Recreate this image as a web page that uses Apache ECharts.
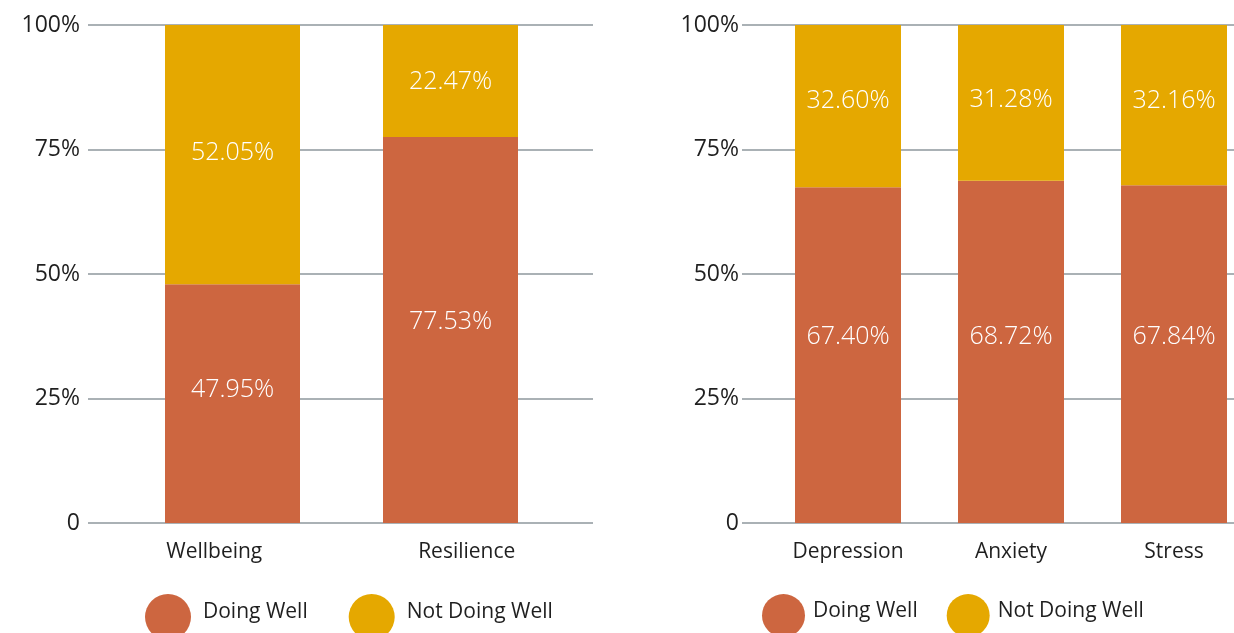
<!DOCTYPE html>
<html>
<head>
<meta charset="utf-8">
<script src="https://cdn.jsdelivr.net/npm/echarts@6/dist/echarts.min.js"></script>
<style>
  html, body { margin: 0; padding: 0; background: #ffffff; overflow: hidden; }
  /* canvas runs a little past the right edge so the last bar band keeps its full width */
  #chart { width: 1290px; height: 633px; }
</style>
</head>
<body>
<div id="chart"></div>
<script>
// Share of respondents doing well / not doing well, by measure
const leftCategories = ['Wellbeing', 'Resilience'];
const leftDoingWell = [47.95, 77.53];
const leftNotDoingWell = [52.05, 22.47];

const rightCategories = ['Depression', 'Anxiety', 'Stress'];
const rightDoingWell = [67.40, 68.72, 67.84];
const rightNotDoingWell = [32.60, 31.28, 32.16];

const yTicks = [0, 25, 50, 75, 100];
const seriesNames = ['Doing Well', 'Not Doing Well'];

const ORANGE = '#CD6640';
const GOLD = '#E5A800';
const GRID_LINE = '#8E979C';
const TEXT = '#1f1f1f';
const FONT = '"Open Sans", Lato, sans-serif';

const chart = echarts.init(document.getElementById('chart'), null, { renderer: 'canvas' });

const tickLabel = v => (v === 0 ? '0' : v + '%');

function valueAxis(gridIndex, showLabels, margin) {
  return {
    type: 'value', gridIndex, min: 0, max: 100, interval: 25,
    axisLine: { show: false }, axisTick: { show: false },
    axisLabel: {
      show: showLabels, formatter: v => (yTicks.includes(v) ? tickLabel(v) : ''),
      color: TEXT, fontFamily: FONT, fontSize: 23, margin: margin || 8
    },
    splitLine: { show: showLabels, lineStyle: { color: GRID_LINE, width: 1.6 } }
  };
}

function catAxis(gridIndex, data, showLabels) {
  return {
    type: 'category', gridIndex, data,
    axisLine: { show: false }, axisTick: { show: false },
    axisLabel: { show: showLabels, color: TEXT, fontFamily: FONT, fontSize: 21, margin: 19 }
  };
}

// labelShift nudges each value label a few pixels above the segment centre
function barSeries(name, data, axisIndex, color, width, labelShift) {
  return {
    type: 'bar', name, stack: 'panel' + axisIndex,
    data: data.map((v, i) => ({ value: v, label: { offset: [0, labelShift[i]] } })),
    xAxisIndex: axisIndex, yAxisIndex: axisIndex,
    barWidth: width, itemStyle: { color },
    label: {
      show: true, position: 'inside',
      formatter: p => p.value.toFixed(2) + '%',
      color: '#ffffff', fontFamily: FONT, fontWeight: 300, fontSize: 25
    }
  };
}

function legend(left, size, gap, textPad) {
  return {
    data: seriesNames, left, top: 594, orient: 'horizontal', padding: 0,
    icon: 'circle', itemWidth: size, itemHeight: size, itemGap: gap,
    formatter: name => '{t|' + name + '}',
    textStyle: {
      color: TEXT, fontFamily: FONT, fontSize: 21,
      rich: { t: { color: TEXT, fontFamily: FONT, fontSize: 21, padding: [0, 0, 9, textPad] } }
    }
  };
}

chart.setOption({
  animation: false,
  backgroundColor: '#ffffff',
  legend: [legend(145, 46, 41, 7), legend(762, 43, 29, 3)],
  grid: [
    { left: 88, width: 505, top: 25, bottom: 110 },     // left panel: ticks, gridlines, labels
    { left: 123.5, width: 436, top: 25, bottom: 110 },  // left panel: bars
    { left: 742, width: 548, top: 25, bottom: 110 },    // right panel: ticks, gridlines
    { left: 766.5, width: 489, top: 25, bottom: 110 }   // right panel: bars, labels
  ],
  xAxis: [
    catAxis(0, leftCategories, true),
    catAxis(1, leftCategories, false),
    catAxis(2, rightCategories, false),
    catAxis(3, rightCategories, true)
  ],
  yAxis: [
    valueAxis(0, true, 8),
    valueAxis(1, false),
    valueAxis(2, true, 3),
    valueAxis(3, false)
  ],
  series: [
    barSeries(seriesNames[0], leftDoingWell, 1, ORANGE, 135, [-14, -8]),
    barSeries(seriesNames[1], leftNotDoingWell, 1, GOLD, 135, [-2, 1]),
    barSeries(seriesNames[0], rightDoingWell, 3, ORANGE, 106, [-18, -15, -17]),
    barSeries(seriesNames[1], rightNotDoingWell, 3, GOLD, 106, [-5, -3, -4])
  ]
});
</script>
</body>
</html>
